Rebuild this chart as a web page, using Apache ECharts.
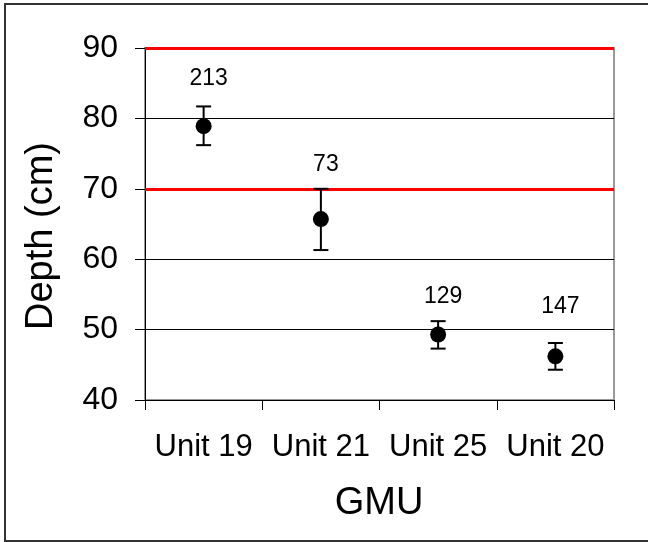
<!DOCTYPE html>
<html><head><meta charset="utf-8">
<script src="https://cdn.jsdelivr.net/npm/echarts@6/dist/echarts.min.js"></script>
<style>html,body{margin:0;padding:0;background:#fff}#c{width:648px;height:542px}</style>
</head><body><div id="c"></div>
<script>
const categories = ['Unit 19', 'Unit 21', 'Unit 25', 'Unit 20'];
const meanDepth = [78.9, 65.7, 49.3, 46.2];
const lowDepth = [76.2, 61.3, 47.3, 44.3];
const highDepth = [81.7, 70.0, 51.2, 48.1];
const sampleSize = ['213', '73', '129', '147'];
const labelAt = [85.6, 73.5, 54.7, 53.2];
const refLines = [70, 90];
const yTicks = [40, 50, 60, 70, 80, 90];

const chart = echarts.init(document.getElementById('c'), null, {renderer: 'canvas'});
const FONT = 'Liberation Sans, Arial, sans-serif';
chart.setOption({
  animation: false,
  backgroundColor: '#fff',
  grid: {left: 145, right: 34, top: 48, bottom: 142, show: true, borderColor: '#999', borderWidth: 2, backgroundColor: 'transparent'},
  xAxis: {
    type: 'category', data: categories, boundaryGap: true,
    axisLine: {lineStyle: {color: '#000', width: 1}},
    axisTick: {show: true, interval: 0, length: 10, inside: false, lineStyle: {color: '#000'}},
    axisLabel: {interval: 0, color: '#000', fontFamily: FONT, fontSize: 31, margin: 32},
    splitLine: {show: false}
  },
  yAxis: {
    type: 'value', min: yTicks[0], max: yTicks[yTicks.length - 1], interval: 10,
    axisLine: {show: true, lineStyle: {color: '#000', width: 1}},
    axisTick: {show: true, length: 10, lineStyle: {color: '#000'}},
    axisLabel: {color: '#000', fontFamily: FONT, fontSize: 32, margin: 27},
    splitLine: {show: true, lineStyle: {color: '#000', width: 1}}
  },
  graphic: [
    {type: 'polyline', shape: {points: [[660, 4], [5, 4], [5, 541], [660, 541]]}, style: {fill: 'none', stroke: '#333', lineWidth: 2}, z: 100},
    {type: 'text', x: 42, y: 236, rotation: Math.PI / 2, style: {text: 'Depth (cm)', font: '38px ' + FONT, fill: '#000', textAlign: 'center', textVerticalAlign: 'middle'}},
    {type: 'text', x: 379, y: 504, style: {text: 'GMU', font: '38px ' + FONT, fill: '#000', textAlign: 'center', textVerticalAlign: 'middle'}}
  ],
  series: [
    {
      type: 'line', data: [], silent: true,
      markLine: {symbol: 'none', silent: true, label: {show: false},
        lineStyle: {color: '#ff0000', width: 3, type: 'solid'},
        data: refLines.map(v => ({yAxis: v}))},
      z: 3
    },
    {
      type: 'custom', z: 5,
      data: categories.map((c, i) => [i, lowDepth[i], highDepth[i]]),
      renderItem: function (params, api) {
        const x = api.coord([api.value(0), 0])[0];
        const lo = api.coord([api.value(0), api.value(1)])[1];
        const hi = api.coord([api.value(0), api.value(2)])[1];
        const hw = 7.5;
        const st = {stroke: '#000', lineWidth: 2};
        return {type: 'group', children: [
          {type: 'line', shape: {x1: x, y1: hi, x2: x, y2: lo}, style: st},
          {type: 'line', shape: {x1: x - hw, y1: hi, x2: x + hw, y2: hi}, style: st},
          {type: 'line', shape: {x1: x - hw, y1: lo, x2: x + hw, y2: lo}, style: st}
        ]};
      }
    },
    {
      type: 'scatter', z: 6, symbol: 'circle', symbolSize: 16,
      itemStyle: {color: '#000', opacity: 1},
      data: categories.map((c, i) => [i, meanDepth[i]])
    },
    {
      type: 'custom', z: 7,
      data: categories.map((c, i) => [i, labelAt[i]]),
      renderItem: function (params, api) {
        const p = api.coord([api.value(0), api.value(1)]);
        return {type: 'text', x: p[0] + 5, y: p[1], style: {text: sampleSize[params.dataIndex], font: '23px ' + FONT, fill: '#000', textAlign: 'center', textVerticalAlign: 'middle'}};
      }
    }
  ]
});
</script></body></html>
